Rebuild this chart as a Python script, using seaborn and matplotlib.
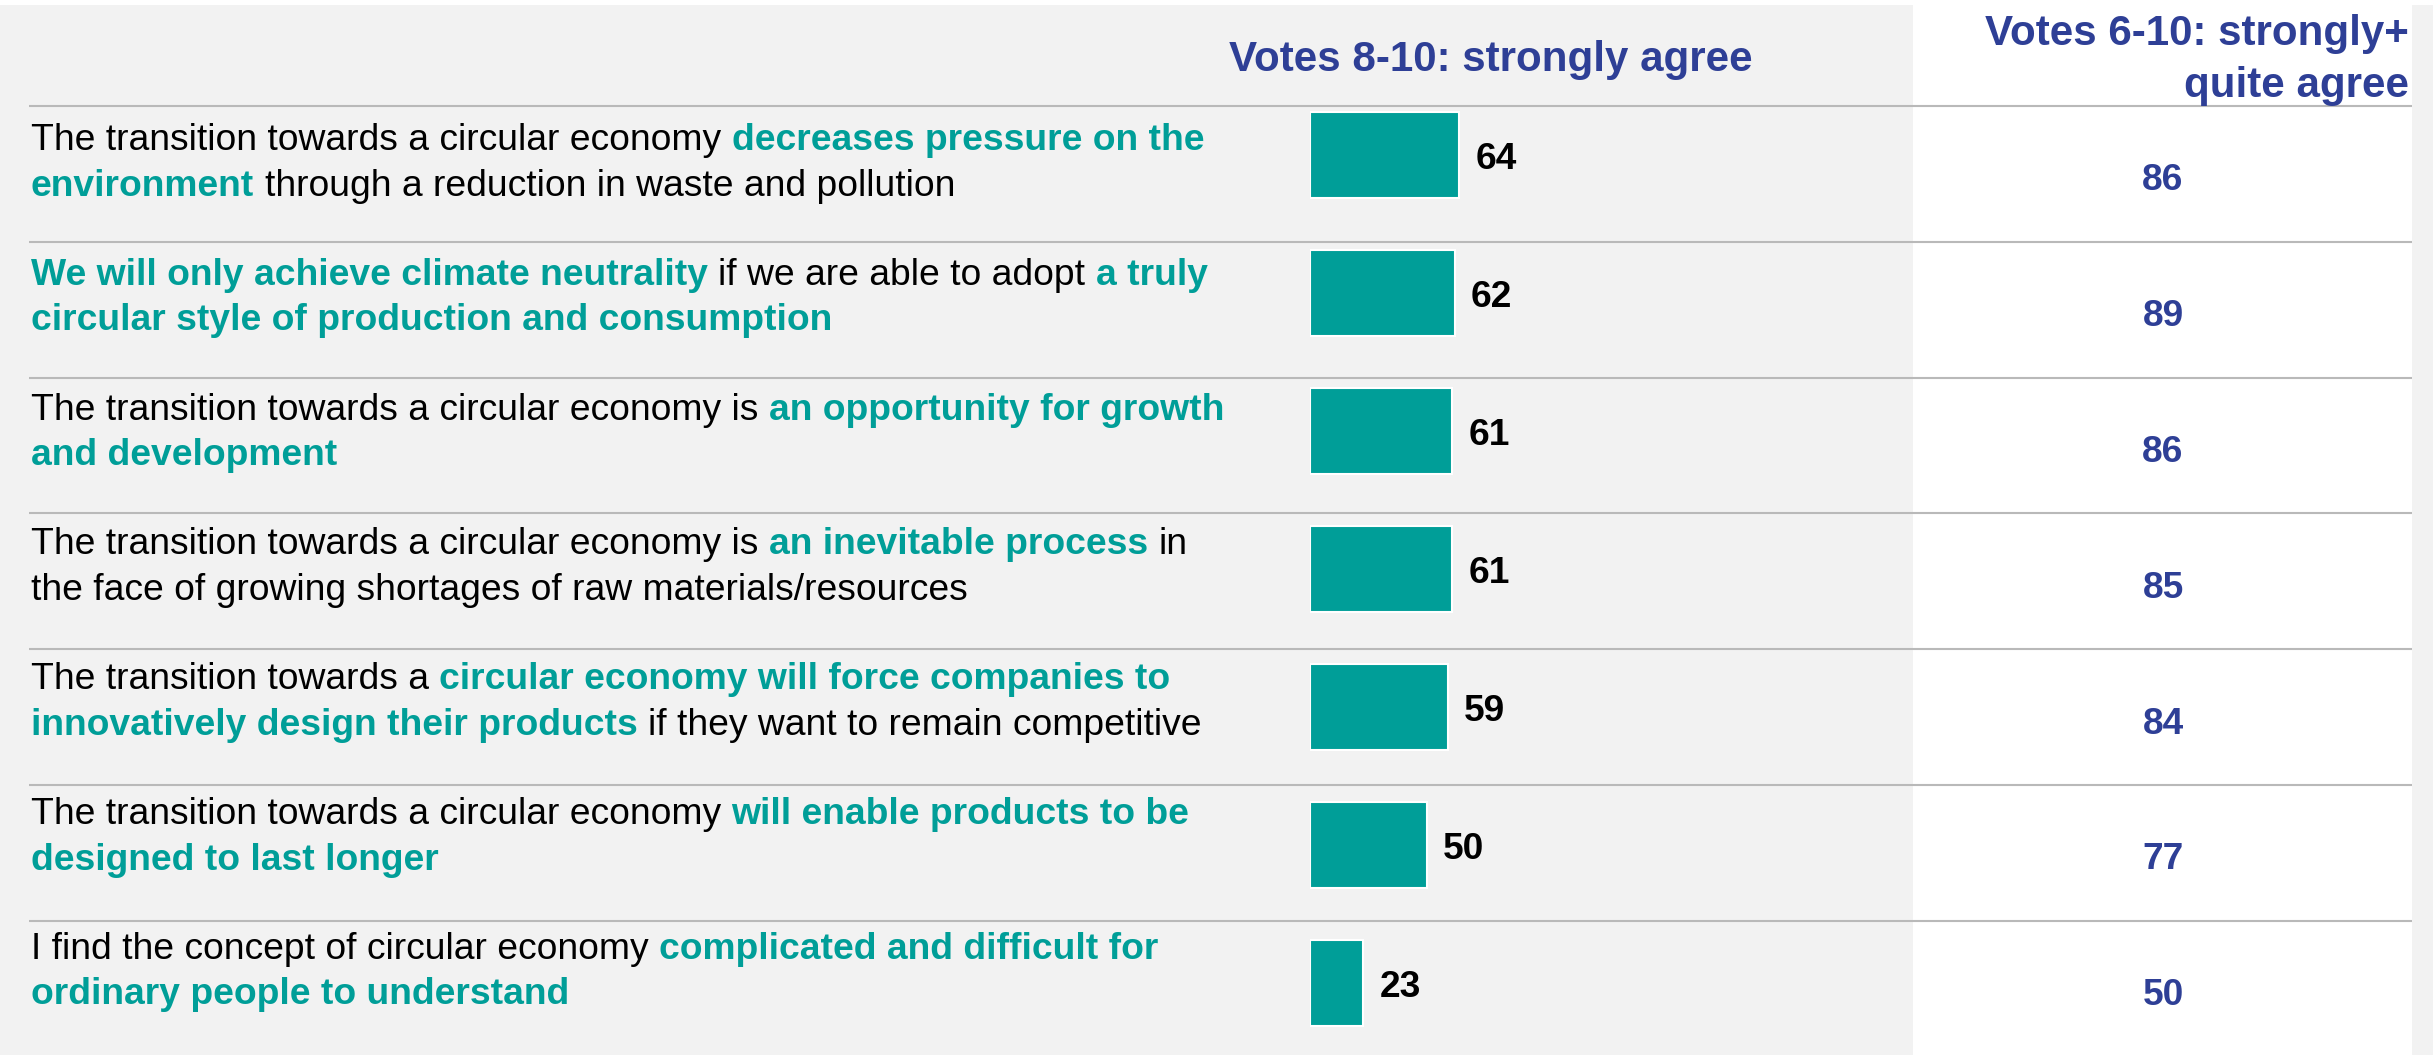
import matplotlib
matplotlib.use("Agg")
import matplotlib.pyplot as plt
from matplotlib.patches import Rectangle
import seaborn as sns
import pandas as pd

# ---------------- data ----------------
# each statement: list of lines, each line a list of (text, highlighted)
statements = [
    [[("The transition towards a circular economy", False), ("decreases pressure on the", True)],
     [("environment", True), ("through a reduction in waste and pollution", False)]],
    [[("We will only achieve climate neutrality", True), ("if we are able to adopt", False), ("a truly", True)],
     [("circular style of production and consumption", True)]],
    [[("The transition towards a circular economy is", False), ("an opportunity for growth", True)],
     [("and development", True)]],
    [[("The transition towards a circular economy is", False), ("an inevitable process", True), ("in", False)],
     [("the face of growing shortages of raw materials/resources", False)]],
    [[("The transition towards a", False), ("circular economy will force companies to", True)],
     [("innovatively design their products", True), ("if they want to remain competitive", False)]],
    [[("The transition towards a circular economy", False), ("will enable products to be", True)],
     [("designed to last longer", True)]],
    [[("I find the concept of circular economy", False), ("complicated and difficult for", True)],
     [("ordinary people to understand", True)]],
]
strong_agree = [64, 62, 61, 61, 59, 50, 23]      # votes 8-10
total_agree = [86, 89, 86, 85, 84, 77, 50]       # votes 6-10
header_bar = "Votes 8-10: strongly agree"
header_total = ["Votes 6-10: strongly+", "quite agree"]

labels = [" ".join(s for line in st for s, _ in line) for st in statements]
df = pd.DataFrame({"statement": labels, "strong": strong_agree, "total": total_agree})

# ---------------- style ----------------
TEAL = "#009e98"
BLUE = "#2e3f96"
BG = "#f2f2f2"
LINE = "#b9b9b9"

sns.set_theme(style="white")
plt.rcParams["font.family"] = ["Liberation Sans", "DejaVu Sans"]

W, H = 2433, 1055
fig = plt.figure(figsize=(W / 100, H / 100), dpi=100)
fig.patch.set_facecolor("white")

# pixel-coordinate layer for background, lines and text
bg = fig.add_axes([0, 0, 1, 1])
bg.set_xlim(0, W)
bg.set_ylim(H, 0)
bg.axis("off")
bg.add_patch(Rectangle((0, 5), W, H - 5, color=BG, zorder=0, lw=0))
bg.add_patch(Rectangle((1913, 5), 499, H - 5, color="white", zorder=0.5, lw=0))

n = len(df)
row_top0, row_pitch = 106, 135.8
for k in range(n):
    y = row_top0 + k * row_pitch
    bg.plot([29, 2412], [y, y], color=LINE, lw=1.5, zorder=1, solid_capstyle="butt")

# headers
bg.text(1491, 71, header_bar, ha="center", va="baseline", fontsize=30.3,
        fontweight="bold", color=BLUE)
bg.text(2409, 45, header_total[0], ha="right", va="baseline", fontsize=30.3,
        fontweight="bold", color=BLUE)
bg.text(2409, 97, header_total[1], ha="right", va="baseline", fontsize=30.3,
        fontweight="bold", color=BLUE)

# left statements with highlighted segments
renderer = fig.canvas.get_renderer()
FS = 26.8
t1 = bg.text(0, -100, "a a", fontsize=FS)
t2 = bg.text(0, -100, "aa", fontsize=FS)
space_w = t1.get_window_extent(renderer).width - t2.get_window_extent(renderer).width
t1.remove(); t2.remove()

text_pitch = 134.8
for k, st in enumerate(statements):
    for j, line in enumerate(st):
        x = 31
        y = 150 + k * text_pitch + j * 45.5
        for seg, hl in line:
            t = bg.text(x, y, seg, ha="left", va="baseline", fontsize=FS,
                        fontweight="bold" if hl else "normal",
                        color=TEAL if hl else "black")
            x += t.get_window_extent(renderer).width + space_w

# right column values
for k, v in enumerate(df["total"]):
    y = row_top0 + k * row_pitch + 71 + 13.3
    bg.text(2163, y, f"{v}", ha="center", va="baseline", fontsize=26.7,
            fontweight="bold", color=BLUE)

# ---------------- bars ----------------
bar_c0, bar_pitch = 155.5, 137.9
ax_top = bar_c0 - 0.5 * bar_pitch
ax_bot = ax_top + n * bar_pitch
ax = fig.add_axes([1309.5 / W, 1 - ax_bot / H, 234 / W, (ax_bot - ax_top) / H])
ax.patch.set_alpha(0)
sns.barplot(data=df, x="strong", y="statement", orient="h", color=TEAL,
            width=86 / bar_pitch, edgecolor="white", linewidth=1.5,
            saturation=1, ax=ax)
ax.set_xlim(0, 100)
ax.set_ylim(n - 0.5, -0.5)
ax.axis("off")
for i, v in enumerate(df["strong"]):
    ax.text(v + 7, i + 14 / bar_pitch, f"{v}", ha="left", va="baseline",
            fontsize=26.7, fontweight="bold", color="black", clip_on=False)

fig.savefig("out.png", dpi=100)
